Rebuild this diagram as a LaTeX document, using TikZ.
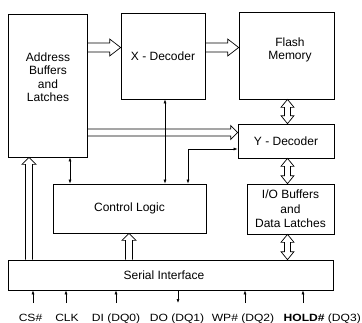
\documentclass[tikz,border=0pt]{standalone}
\usepackage{fontspec}
\setmainfont{Liberation Sans}
\newfontfamily\pinfont[FakeStretch=1.15]{Liberation Sans}
\usetikzlibrary{calc,arrows.meta}

\def\faw{3.5pt}\def\fahw{7pt}\def\fahl{7pt}
\tikzset{
  blk/.style={draw, line width=0.7pt, align=center, font=\fontsize{12}{14.5}\selectfont},
  blktext/.style={align=center, font=\fontsize{12}{13.5}\selectfont},
  pin/.style={anchor=base, font=\pinfont\fontsize{10.5}{12}\selectfont},
  link/.style={line width=0.6pt, {Latex[length=4pt,width=3pt]}-{Latex[length=4pt,width=3pt]}},
  sig/.style={line width=0.6pt, -{Latex[length=4pt,width=3pt]}},
  big/.code={\def\faw{4.5pt}\def\fahw{8.5pt}\def\fahl{11pt}},
  slim/.code={\def\faw{3pt}\def\fahw{6.5pt}\def\fahl{8pt}},
  fatarrow/.style={line width=0.7pt, to path={
    ($(\tikztotarget)!\fahl!(\tikztostart)$) coordinate (fa-h)
    ($(\tikztostart)!\faw!90:(\tikztotarget)$)
    -- ($(fa-h)!\faw!-90:(\tikztostart)$)
    -- ($(fa-h)!\fahw!-90:(\tikztostart)$)
    -- (\tikztotarget)
    -- ($(fa-h)!\fahw!90:(\tikztostart)$)
    -- ($(fa-h)!\faw!90:(\tikztostart)$)
    -- ($(\tikztostart)!\faw!-90:(\tikztotarget)$)}},
  dblarrow/.style={line width=0.7pt, slim, to path={
    ($(\tikztostart)!\fahl!(\tikztotarget)$) coordinate (fa-a)
    ($(\tikztotarget)!\fahl!(\tikztostart)$) coordinate (fa-b)
    (\tikztostart)
    -- ($(fa-a)!\fahw!90:(\tikztotarget)$)
    -- ($(fa-a)!\faw!90:(\tikztotarget)$)
    -- ($(fa-b)!\faw!-90:(\tikztostart)$)
    -- ($(fa-b)!\fahw!-90:(\tikztostart)$)
    -- (\tikztotarget)
    -- ($(fa-b)!\fahw!90:(\tikztostart)$)
    -- ($(fa-b)!\faw!90:(\tikztostart)$)
    -- ($(fa-a)!\faw!-90:(\tikztotarget)$)
    -- ($(fa-a)!\fahw!-90:(\tikztotarget)$)
    -- cycle}}
}

\begin{document}
\begin{tikzpicture}[x=1pt,y=-1pt]
\useasboundingbox (0,0) rectangle (362,322);

% blocks
\node[blk, minimum width=79pt, minimum height=143pt,
  label={[blktext, yshift=8.5pt]center:Address\\Buffers\\and\\Latches}] (addr) at (48,85.5) {};
\node[blk, minimum width=84pt, minimum height=86pt] (xdec) at (163,56) {X - Decoder};
\node[blk, minimum width=95pt, minimum height=87pt,
  label={[blktext, xshift=3.5pt, yshift=5.5pt]center:Flash\\Memory}] (flash) at (286.5,55.5) {};
\node[blk, minimum width=96pt, minimum height=34pt] (ydec) at (286,141) {Y - Decoder};
\node[blk, minimum width=87pt, minimum height=50pt] (io) at (290.5,209) {I/O Buffers\\and\\Data Latches};
\node[blk, minimum width=153pt, minimum height=49pt] (ctrl) at (129.5,208.5) {Control Logic};
\node[blk, minimum width=325pt, minimum height=30pt, text depth=0pt] (serial) at (170.5,275) {\hspace*{-13pt}Serial Interface};

% rows and columns
\coordinate (row-x) at (0,47.5);
\coordinate (row-bus) at (0,132.5);
\coordinate (row-ctl) at (0,149);
\coordinate (col-s) at (29,0);
\coordinate (col-a) at (70,0);
\coordinate (col-c) at (129,0);
\coordinate (col-x) at (165,0);
\coordinate (col-y) at (188,0);
\coordinate (col-m) at (287.5,0);

% wide buses
\draw[fatarrow, big] (addr.east |- row-x) to (xdec.west |- row-x);
\draw[fatarrow, big] (xdec.east |- row-x) to (flash.west |- row-x);
\draw[fatarrow] (addr.east |- row-bus) to (ydec.west |- row-bus);
\draw[fatarrow] (serial.north -| col-s) to (addr.south -| col-s);
\draw[fatarrow] (serial.north -| col-c) to (ctrl.south -| col-c);
\draw[dblarrow] (flash.south -| col-m) to (ydec.north -| col-m);
\draw[dblarrow] (ydec.south -| col-m) to (io.north -| col-m);
\draw[dblarrow] (io.south -| col-m) to (serial.north -| col-m);

% control lines
\draw[link] (addr.south -| col-a) -- (ctrl.north -| col-a);
\draw[link] (xdec.south -| col-x) -- (ctrl.north -| col-x);
\draw[link] (ctrl.north -| col-y) |- (ydec.west |- row-ctl);

% pins
\coordinate (p-cs) at (33,303);
\coordinate (p-clk) at (66,303);
\coordinate (p-di) at (116,303);
\coordinate (p-do) at (178,303);
\coordinate (p-wp) at (245,303);
\coordinate (p-hold) at (303,303);
\node[pin] (cs) at (30.5,321) {CS\#};
\node[pin] (clk) at (67,321) {CLK};
\node[pin] (di) at (116,321) {DI (DQ0)};
\node[pin] (do) at (177,321) {DO (DQ1)};
\node[pin] (wp) at (243,321) {WP\# (DQ2)};
\node[pin, anchor=base east, inner xsep=1pt] (hold) at (362,321) {\textbf{HOLD\#} (DQ3)};
\draw[sig] (p-cs) -- (p-cs |- serial.south);
\draw[sig] (p-clk) -- (p-clk |- serial.south);
\draw[sig] (p-di) -- (p-di |- serial.south);
\draw[sig] (p-do |- serial.south) -- (p-do);
\draw[sig] (p-wp) -- (p-wp |- serial.south);
\draw[sig] (p-hold) -- (p-hold |- serial.south);
\end{tikzpicture}
\end{document}
